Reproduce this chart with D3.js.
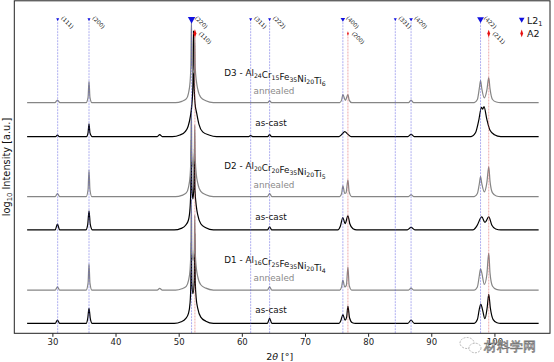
<!DOCTYPE html>
<html><head><meta charset="utf-8">
<script src="https://cdn.jsdelivr.net/npm/d3@7"></script>
<style>body{margin:0;background:#fff}svg{display:block}text{font-family:"DejaVu Sans",sans-serif}</style>
</head><body><svg id="c" width="554" height="362"></svg>
<script>
// ---------- data ----------
const xTicks = [30, 40, 50, 60, 70, 80, 90, 100];
const seriesNames = ["D1 as-cast", "D1 annealed", "D2 as-cast", "D2 annealed", "D3 as-cast", "D3 annealed"];
const seriesOffsets = [0, 1.07, 3.0, 4.07, 6.0, 7.09];
const seriesKinds = ["as-cast", "annealed", "as-cast", "annealed", "as-cast", "annealed"];

const d1AsCast = [[26,2.0],[30.45,2.0],[30.8,2.1],[31.15,2.0],
 [35.35,2.0],[35.6,2.16],[35.8,2.48],[36.0,2.16],[36.3,2.0],
 [49.3,2.0],[50.4,2.05],[51.1,2.15],[51.55,2.32],[51.8,2.65],[51.92,3.2],[52.0,4.6],[52.08,3.3],[52.27,2.95],[52.47,3.4],[52.55,4.9],[52.63,3.3],[52.8,2.75],[53.0,2.5],[53.5,2.2],[54.3,2.07],[55.5,2.0],
 [64.05,2.0],[64.4,2.16],[64.75,2.0],
 [75.4,2.0],[75.7,2.1],[76.0,2.28],[76.35,2.1],[76.6,2.2],[76.8,2.55],[77.05,2.18],[77.5,2.02],[78,2.0],
 [86.3,2.0],[86.8,2.1],[87.3,2.0],
 [96.8,2.0],[97.3,2.12],[97.6,2.45],[97.85,2.62],[98.1,2.45],[98.5,2.15],[98.85,2.5],[99.1,2.93],[99.35,2.5],[99.8,2.12],[100.4,2.02],[101,2.0],[107,2.0]];
const d1Annealed = [[26,2.0],[30.45,2.0],[30.8,2.1],[31.15,2.0],
 [35.35,2.0],[35.65,2.22],[35.8,2.84],[35.95,2.22],[36.25,2.0],
 [46.6,2.0],[47.0,2.05],[47.4,2.0],
 [49.5,2.0],[50.5,2.04],[51.2,2.12],[51.55,2.3],[51.8,2.65],[51.92,3.2],[52.0,4.9],[52.08,3.3],[52.27,2.95],[52.47,3.3],[52.55,4.4],[52.63,3.2],[52.8,2.7],[53.0,2.45],[53.5,2.17],[54.3,2.06],[55.5,2.0],
 [64.05,2.0],[64.4,2.1],[64.75,2.0],
 [75.5,2.0],[75.8,2.1],[76.0,2.32],[76.3,2.1],[76.55,2.15],[76.8,2.74],[77.0,2.15],[77.4,2.0],
 [86.4,2.0],[86.8,2.06],[87.2,2.0],
 [96.8,2.0],[97.3,2.1],[97.6,2.45],[97.8,2.68],[98.0,2.55],[98.4,2.18],[98.8,2.5],[99.1,3.19],[99.3,2.55],[99.7,2.12],[100.3,2.02],[101,2.0],[107,2.0]];
const d2AsCast = [[26,2.0],[30.45,2.0],[30.8,2.19],[31.15,2.0],
 [35.3,2.0],[35.6,2.18],[35.8,2.61],[36.0,2.18],[36.35,2.0],
 [49.3,2.0],[50.4,2.05],[51.1,2.15],[51.55,2.32],[51.8,2.7],[51.92,3.3],[52.0,4.9],[52.08,3.4],[52.25,3.0],[52.42,3.4],[52.5,4.6],[52.58,3.3],[52.8,2.75],[53.0,2.5],[53.5,2.2],[54.3,2.07],[55.5,2.0],
 [64.05,2.0],[64.4,2.1],[64.75,2.0],
 [75.2,2.0],[75.6,2.12],[76.0,2.4],[76.35,2.2],[76.8,2.45],[77.1,2.2],[77.6,2.04],[78.2,2.0],
 [86.2,2.0],[86.8,2.08],[87.4,2.0],
 [96.6,2.0],[97.2,2.12],[98.0,2.42],[98.5,2.24],[99.1,2.42],[99.6,2.15],[100.2,2.03],[101,2.0],[107,2.0]];
const d2Annealed = [[26,2.0],[30.45,2.0],[30.8,2.1],[31.15,2.0],
 [35.35,2.0],[35.65,2.22],[35.8,2.85],[35.95,2.22],[36.25,2.0],
 [49.5,2.0],[50.5,2.04],[51.2,2.12],[51.55,2.3],[51.8,2.65],[51.92,3.2],[52.0,4.9],[52.08,3.3],[52.27,2.95],[52.47,3.3],[52.55,4.3],[52.63,3.2],[52.8,2.7],[53.0,2.45],[53.5,2.17],[54.3,2.06],[55.5,2.0],
 [64.05,2.0],[64.4,2.1],[64.75,2.0],
 [75.5,2.0],[75.8,2.1],[76.0,2.35],[76.3,2.1],[76.5,2.12],[76.8,2.54],[77.0,2.15],[77.4,2.0],
 [86.4,2.0],[86.8,2.06],[87.2,2.0],
 [96.8,2.0],[97.3,2.1],[97.6,2.4],[97.8,2.64],[98.0,2.42],[98.4,2.15],[98.8,2.45],[99.1,2.96],[99.3,2.5],[99.7,2.12],[100.3,2.02],[101,2.0],[107,2.0]];
const d3AsCast = [[26,2.0],[30.5,2.0],[30.8,2.05],[31.1,2.0],
 [35.4,2.0],[35.65,2.12],[35.8,2.41],[35.95,2.12],[36.3,2.0],
 [46.6,2.0],[47.0,2.06],[47.4,2.0],
 [49.0,2.0],[50.2,2.05],[51.0,2.15],[51.5,2.33],[51.85,2.65],[52.1,3.05],[52.26,3.7],[52.35,5.4],[52.44,3.7],[52.6,3.05],[52.85,2.75],[53.2,2.4],[53.8,2.15],[54.8,2.05],[56,2.0],
 [61.1,2.0],[61.4,2.03],[61.7,2.0],
 [64.1,2.0],[64.4,2.06],[64.7,2.0],
 [75.4,2.0],[75.9,2.08],[76.3,2.16],[76.8,2.07],[77.3,2.0],
 [86.3,2.0],[86.8,2.07],[87.3,2.0],
 [96.3,2.0],[97.0,2.12],[97.5,2.5],[97.95,2.94],[98.15,2.88],[98.35,2.96],[98.8,2.55],[99.3,2.2],[100,2.06],[101,2.0],[107,2.0]];
const d3Annealed = [[26,2.0],[30.4,2.0],[30.8,2.08],[31.2,2.0],
 [35.35,2.0],[35.65,2.17],[35.8,2.68],[35.95,2.17],[36.25,2.0],
 [49.5,2.0],[50.5,2.04],[51.2,2.12],[51.55,2.3],[51.8,2.65],[51.93,3.2],[52.02,4.65],[52.1,3.3],[52.28,2.95],[52.47,3.2],[52.55,4.1],[52.63,3.1],[52.8,2.7],[53.0,2.45],[53.5,2.17],[54.3,2.06],[55.5,2.0],
 [64.1,2.0],[64.4,2.06],[64.7,2.0],
 [75.5,2.0],[75.8,2.08],[76.0,2.26],[76.4,2.07],[76.8,2.26],[77.0,2.08],[77.4,2.0],
 [86.4,2.0],[86.8,2.08],[87.2,2.0],
 [96.8,2.0],[97.3,2.1],[97.6,2.45],[97.8,2.71],[98.0,2.45],[98.4,2.15],[98.8,2.4],[99.1,2.8],[99.3,2.45],[99.7,2.1],[100.3,2.02],[101,2.0],[107,2.0]];
const seriesData = [d1AsCast, d1Annealed, d2AsCast, d2Annealed, d3AsCast, d3Annealed];

const l21Positions = [30.84, 35.8, 52.04, 61.4, 64.4, 76.0, 84.3, 86.8, 97.8];
const l21Labels = ["(111)", "(200)", "(220)", "(311)", "(222)", "(400)", "(331)", "(420)", "(422)"];
const l21Sizes = [4, 4, 24, 4, 4, 9, 4, 6, 20];
const a2Positions = [52.57, 76.8, 99.1];
const a2Labels = ["(110)", "(200)", "(211)"];
const a2Sizes = [14, 4, 12];

const sampleNames = ["D1", "D2", "D3"];
const sampleComp = [
  [["Al","16"],["Cr","25"],["Fe","35"],["Ni","20"],["Ti","4"]],
  [["Al","20"],["Cr","20"],["Fe","35"],["Ni","20"],["Ti","5"]],
  [["Al","24"],["Cr","15"],["Fe","35"],["Ni","20"],["Ti","6"]]
];
const sampleOffsets = [0, 3.0, 6.0];

// ---------- layout ----------
const L = 14.3, R = 550, T = 0.8, B = 333.3;
const x = d3.scaleLinear().domain([23.97, 108.8]).range([L, R]);
const y = d3.scaleLinear().domain([1.68, 12.36]).range([B, T]);
const svg = d3.select("#c");

// traces
const line = d3.line().x(d => x(d[0])).y(d => y(d[1])).curve(d3.curveMonotoneX);
const colorOf = k => k === "as-cast" ? "#000" : "#868686";
seriesData.forEach((s, i) => {
  svg.append("path")
    .datum(s.map(p => [p[0], p[1] + seriesOffsets[i]]))
    .attr("d", line).attr("fill", "none")
    .attr("stroke", colorOf(seriesKinds[i])).attr("stroke-width", 1.2)
    .attr("stroke-linejoin", "round");
});

// reference lines
const yL21 = 19.2, yA2 = 33.5;
svg.append("g").selectAll("line").data(l21Positions).join("line")
  .attr("x1", d => x(d)).attr("x2", d => x(d)).attr("y1", yL21).attr("y2", B)
  .attr("stroke", "#5a5ae0").attr("stroke-opacity", 0.55).attr("stroke-width", 0.9)
  .attr("stroke-dasharray", "2,1");
svg.append("g").selectAll("line").data(a2Positions).join("line")
  .attr("x1", d => x(d)).attr("x2", d => x(d)).attr("y1", yA2).attr("y2", B)
  .attr("stroke", "#e06060").attr("stroke-opacity", 0.6).attr("stroke-width", 0.9)
  .attr("stroke-dasharray", "2,1");

// markers
const tri = s => d3.symbol().type(d3.symbolTriangle).size(s)();
l21Positions.forEach((p, i) => {
  svg.append("path").attr("d", tri(l21Sizes[i]))
    .attr("transform", `translate(${x(p)},${yL21}) rotate(180)`).attr("fill", "#1010e0");
  svg.append("text").attr("transform", `translate(${x(p) + 3},${yL21 - 0.8}) rotate(45)`)
    .attr("font-size", 5.6).attr("fill", "#222").text(l21Labels[i]);
});
a2Positions.forEach((p, i) => {
  svg.append("path").attr("d", d3.symbol().type(d3.symbolDiamond).size(a2Sizes[i])())
    .attr("transform", `translate(${x(p)},${yA2}) scale(0.75,1.2)`).attr("fill", "#e81010");
  svg.append("text").attr("transform", `translate(${x(p) + 3.5},${yA2 + 0.5}) rotate(45)`)
    .attr("font-size", 5.6).attr("fill", "#222").text(a2Labels[i]);
});

// sample labels
const labelX = 275;
sampleNames.forEach((n, i) => {
  const base = y(2.0 + sampleOffsets[i]);
  const t = svg.append("text").attr("x", labelX).attr("y", base - 60.5)
    .attr("text-anchor", "middle").attr("font-size", 8.8).attr("fill", "#111");
  t.append("tspan").text(n + " - ");
  sampleComp[i].forEach(([el, sub]) => {
    t.append("tspan").text(el);
    t.append("tspan").attr("font-size", 6.2).attr("dy", 2).text(sub);
    t.append("tspan").attr("font-size", 8.8).attr("dy", -2).text("");
  });
  svg.append("text").attr("x", labelX - 1).attr("y", base - 42.2).attr("text-anchor", "middle")
    .attr("font-size", 8.8).attr("fill", "#8a8a8a").text("annealed");
  svg.append("text").attr("x", labelX - 4).attr("y", base - 10.2).attr("text-anchor", "middle")
    .attr("font-size", 8.8).attr("fill", "#111").text("as-cast");
});

// frame and axis
svg.append("rect").attr("x", L).attr("y", T).attr("width", R - L).attr("height", B - T)
  .attr("fill", "none").attr("stroke", "#222").attr("stroke-width", 1);
const ax = svg.append("g").attr("transform", `translate(0,${B})`)
  .call(d3.axisBottom(x).tickValues(xTicks).tickSize(3.5).tickPadding(2.5).tickFormat(d3.format("d")));
ax.select(".domain").remove();
ax.selectAll("line").attr("stroke", "#222");
ax.selectAll("text").attr("font-size", 8.5).attr("fill", "#222").attr("font-family", "DejaVu Sans");

// axis labels
const xl = svg.append("text").attr("x", x(66)).attr("y", 359.5).attr("text-anchor", "middle")
  .attr("font-size", 9.5).attr("fill", "#111");
xl.append("tspan").text("2");
xl.append("tspan").attr("font-style", "italic").text("θ");
xl.append("tspan").text(" [°]");
const yl = svg.append("text").attr("transform", "translate(9.5,167) rotate(-90)")
  .attr("text-anchor", "middle").attr("font-size", 9.8).attr("fill", "#111");
yl.append("tspan").text("log");
yl.append("tspan").attr("font-size", 6.8).attr("dy", 2).text("10");
yl.append("tspan").attr("dy", -2).text(" Intensity [a.u.]");

// legend
svg.append("path").attr("d", tri(14)).attr("transform", "translate(521.7,19.5) rotate(180)").attr("fill", "#1010e0");
const lg = svg.append("text").attr("x", 527).attr("y", 23.5).attr("font-size", 9.5).attr("fill", "#111");
lg.append("tspan").text("L2");
lg.append("tspan").attr("font-size", 6.7).attr("dy", 2).text("1");
svg.append("path").attr("d", d3.symbol().type(d3.symbolDiamond).size(12)())
  .attr("transform", "translate(521.7,33.4) scale(0.75,1.2)").attr("fill", "#e81010");
svg.append("text").attr("x", 527).attr("y", 37.2).attr("font-size", 9.5).attr("fill", "#111").text("A2");

// watermark
const wm = svg.append("g").attr("fill", "#fff").attr("stroke", "#999").attr("stroke-width", 0.7);
wm.append("ellipse").attr("cx", 467).attr("cy", 343).attr("rx", 7).attr("ry", 5.5).attr("stroke-dasharray", "2,1.2");
wm.append("ellipse").attr("cx", 475).attr("cy", 348).attr("rx", 6).attr("ry", 4.8).attr("stroke-dasharray", "2,1.2");
svg.append("text").attr("x", 510).attr("y", 351).attr("text-anchor", "middle")
  .attr("font-family", "Noto Sans CJK SC").attr("font-size", 12.5)
  .attr("fill", "#fff").attr("stroke", "#777").attr("stroke-width", 0.7).text("材料学网");
</script></body></html>
